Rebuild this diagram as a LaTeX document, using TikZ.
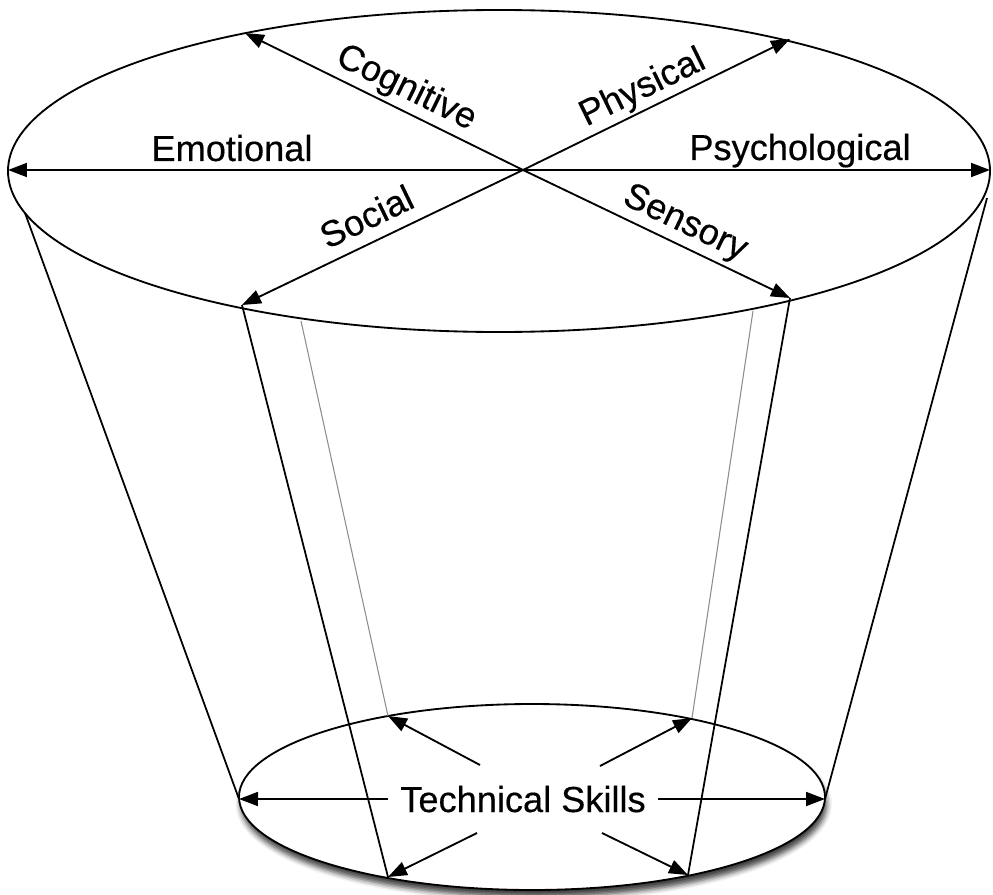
\documentclass[tikz,border=0pt]{standalone}
\usepackage{fontspec}
\setmainfont{Liberation Sans}[FakeBold=0.4]
\usetikzlibrary{arrows.meta, shadows.blur}

\begin{document}
\begin{tikzpicture}[
    x=0.02cm, y=-0.02cm,
    >={Triangle[length=0.38cm, width=0.28cm]},
    rim/.style={draw=black, line width=1.05pt},
    spoke/.style={->, draw=black, line width=1.05pt},
    wall/.style={draw=black, line width=1pt},
    guide/.style={draw=black!45, line width=0.6pt},
    dim/.style={anchor=base, inner sep=0pt},
    every node/.style={font=\fontsize{20.6}{24}\selectfont}
]
\useasboundingbox (0,0) rectangle (993,895);

% Bottom ellipse, with its shadow
\path[rim, fill=white, blur shadow={shadow xshift=1pt, shadow yshift=-4pt, shadow blur radius=3pt, shadow opacity=75}]
    (532,797) ellipse [x radius=293, y radius=93];

% Top ellipse
\draw[rim] (499,171) ellipse [x radius=491, y radius=161];

% Points on the rims
\coordinate (hub) at (523,170);
\coordinate (cogTip) at (245,33);
\coordinate (phyTip) at (790,39);
\coordinate (socTip) at (242,305);
\coordinate (senTip) at (790,298);
\coordinate (emoTip) at (8,170);
\coordinate (psyTip) at (990,170);
\coordinate (topL) at (25,213);
\coordinate (topR) at (987,198);
\coordinate (guideL) at (301,321);
\coordinate (guideR) at (753,311);

\coordinate (lowL) at (239,799);
\coordinate (lowR) at (825,799);
\coordinate (lowTL) at (388,716);
\coordinate (lowTR) at (692,718);
\coordinate (lowBL) at (388,877);
\coordinate (lowBR) at (688,875);

% Labels
\node[dim] (emo) at (232,161) {Emotional};
\node[dim] (psy) at (800,160) {Psychological};
\node[dim, rotate=-26.2] (cog) at (402,97) {Cognitive};
\node[dim, rotate=26] (phy) at (647,97) {Physical};
\node[dim, rotate=25.7] (soc) at (372,228) {Social};
\node[dim, rotate=-25.6] (sen) at (681,232) {Sensory};
\node[dim, inner xsep=0.24cm] (tech) at (523,812) {Technical Skills};

% Free ends of the small arrows
\coordinate (techTL) at (480,765);
\coordinate (techTR) at (600,766);
\coordinate (techBL) at (477,833);
\coordinate (techBR) at (602,833);

% Walls of the cone
\draw[wall] (topL) -- (lowL);
\draw[wall] (topR) -- (lowR);
\draw[wall] (socTip) -- (lowBL);
\draw[wall] (senTip) -- (lowBR);
\draw[guide] (guideL) -- (lowTL);
\draw[guide] (guideR) -- (lowTR);

% Top arrows
\draw[spoke] (hub) -- (cogTip);
\draw[spoke] (hub) -- (phyTip);
\draw[spoke] (hub) -- (socTip);
\draw[spoke] (hub) -- (senTip);
\draw[spoke] (hub) -- (emoTip);
\draw[spoke] (hub) -- (psyTip);

% Bottom arrows
\draw[spoke] (tech.west) -- (lowL);
\draw[spoke] (tech.east) -- (lowR);
\draw[spoke] (techTL) -- (lowTL);
\draw[spoke] (techTR) -- (lowTR);
\draw[spoke] (techBL) -- (lowBL);
\draw[spoke] (techBR) -- (lowBR);

\end{tikzpicture}
\end{document}
